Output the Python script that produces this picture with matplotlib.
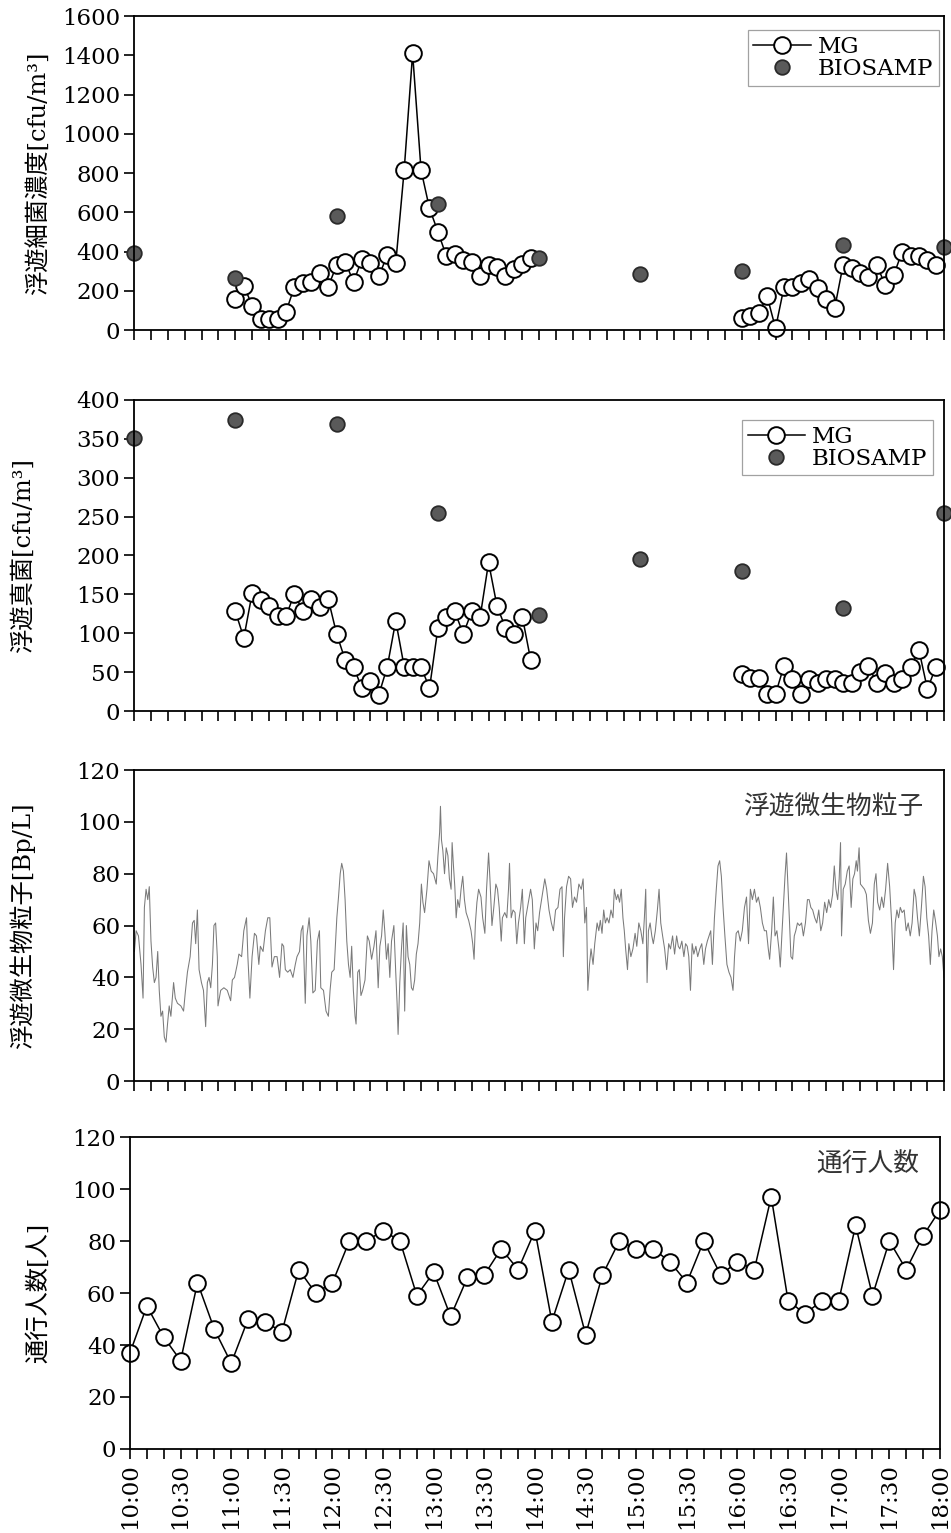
import numpy as np
import matplotlib.pyplot as plt
from matplotlib.ticker import MultipleLocator, FuncFormatter

plt.rcParams['font.family'] = ['DejaVu Serif', 'Noto Sans CJK JP']

# time axis: minutes after 10:00
bio_t = [0, 60, 120, 180, 240, 300, 360, 420, 480]
mg_t_am = np.arange(60, 240, 5)     # 11:00 - 13:55
mg_t_pm = np.arange(360, 480, 5)    # 16:00 - 17:55
walk_t = np.arange(0, 481, 10)      # 10:00 - 18:00

# airborne bacteria [cfu/m3]
bac_mg_am = [158, 226, 124, 56, 56, 56, 93, 221, 238, 246, 289, 221, 331, 348, 246, 360, 343, 275,
             382, 340, 815, 1410, 815, 620, 501, 377, 387, 357, 345, 275, 331, 323, 275, 311, 335, 365]
bac_mg_pm = [60, 71, 85, 173, 9, 218, 218, 241, 258, 212, 156, 110, 331, 314, 289, 272, 331, 229,
             280, 399, 379, 377, 357, 331]
bac_bio = [391, 263, 581, 642, 365, 284, 302, 433, 425]

# airborne fungi [cfu/m3]
fun_mg_am = [128, 94, 152, 143, 135, 122, 122, 151, 128, 144, 134, 144, 99, 66, 57, 29, 38, 21,
             57, 116, 57, 57, 57, 29, 107, 121, 128, 99, 128, 121, 191, 135, 107, 99, 121, 65]
fun_mg_pm = [48, 42, 42, 22, 22, 58, 41, 22, 41, 36, 41, 41, 36, 36, 50, 58, 36, 49,
             36, 41, 57, 78, 28, 57]
fun_bio = [351, 374, 369, 255, 124, 195, 180, 133, 254]

# airborne microbial particles [Bp/L]
part_t = [
    0.2, 1.2, 2.6, 4.1, 5.3, 6.1, 7.1, 8.1, 9.0, 10.0, 11.0, 12.0, 13.0, 14.0, 14.9, 15.9, 16.9, 17.9,
    18.9, 19.8, 20.8, 21.8, 23.4, 24.4, 25.7, 27.7, 29.3, 30.3, 31.6, 33.2, 34.6, 35.6, 36.5, 37.5,
    38.5, 39.9, 41.1, 42.4, 43.4, 44.4, 45.4, 46.4, 47.3, 48.3, 49.3, 49.7, 51.3, 53.2, 55.2, 57.2,
    58.2, 59.5, 61.1, 62.1, 63.7, 65.0, 66.6, 67.4, 68.6, 69.9, 71.3, 72.5, 73.9, 74.8, 76.4, 77.8,
    79.2, 80.4, 81.7, 83.1, 84.7, 86.2, 87.6, 88.6, 89.6, 91.0, 92.5, 94.1, 95.5, 96.5, 98.0, 99.0,
    100.0, 101.4, 102.4, 103.7, 104.7, 105.9, 107.3, 108.6, 109.8, 110.6, 112.2, 113.7, 115.1, 116.1,
    117.1, 118.5,
    120.1, 121.1, 122.1, 123.0, 124.0, 125.0, 126.0, 127.0, 128.0, 128.9, 129.9, 130.9, 131.5, 132.5,
    133.4, 134.4, 135.4, 136.8, 138.2, 139.3, 140.7, 142.1, 143.3, 144.6, 145.6, 146.6, 147.6, 148.6,
    149.5, 150.5, 151.5, 152.5, 153.9, 155.0, 155.8, 156.4, 157.4, 158.4, 159.4, 160.3, 161.3, 162.3,
    163.3, 164.3, 165.2, 166.2, 167.2, 168.2, 169.2, 170.2, 171.1, 172.1, 173.5, 174.7, 176.0, 177.4,
    179.0, 180.0, 181.0, 181.5, 182.1, 182.9, 183.9, 184.9, 185.9, 186.8, 187.8, 188.4, 189.2, 190.0,
    190.8, 191.7, 192.7, 193.7, 194.7, 195.7, 196.7, 198.2, 199.6, 200.6, 201.4, 202.2, 203.1, 204.1,
    205.5, 206.5, 207.8, 208.8, 210.0, 210.8, 212.0, 213.1, 214.3, 215.3, 216.3, 217.5, 218.2, 219.6,
    220.8, 221.8, 222.4, 223.4, 224.5, 225.7, 226.7, 227.7, 229.0, 230.0, 231.2, 232.0, 233.6, 234.9,
    235.9, 237.1, 238.1, 239.1, 240.2, 241.4,
    243.3, 244.4, 245.8, 247.2, 248.4, 249.7, 251.1, 252.3, 253.5, 254.3, 255.0, 256.2, 257.4, 258.6,
    259.7, 260.9, 262.1, 263.5, 264.9, 266.0, 267.0, 268.0, 268.8, 269.8, 270.7, 271.9, 272.9, 274.3,
    275.3, 276.2, 277.2, 278.2, 279.2, 280.2, 281.3, 282.5, 283.7, 284.5, 285.7, 286.6, 287.6, 288.6,
    289.6, 290.4, 291.2, 292.3, 293.1, 294.3, 295.5, 296.8, 297.8, 299.0, 300.2, 301.4, 302.3, 303.1,
    303.9, 304.7, 305.7, 306.7, 307.6, 308.8, 310.0, 311.0, 312.0, 313.1, 314.3, 315.5, 316.7, 317.8,
    319.0, 320.2, 321.4, 322.4, 323.3, 324.5, 325.7, 326.7, 327.7, 328.6, 329.6, 330.6, 331.6, 332.8,
    333.9, 335.1, 336.3, 337.5, 338.5, 339.6, 340.6, 341.6, 342.6, 343.8, 344.9, 345.9, 346.9, 347.9,
    348.9, 350.0, 351.2, 352.4, 353.6, 354.8, 355.7, 356.7, 357.9, 359.1, 360.3,
    361.6, 362.8, 364.0, 365.1, 366.3, 367.5, 368.7, 369.8, 371.0, 372.2, 373.4, 374.6, 375.7, 376.5,
    377.7, 378.7, 379.7, 380.8, 382.0, 382.8, 383.8, 384.8, 385.6, 386.5, 387.3, 388.3, 389.1, 390.1,
    391.1, 392.0, 393.0, 394.2, 395.4, 396.5, 397.7, 398.9, 399.9, 400.9, 402.0, 403.2, 404.4, 405.6,
    406.8, 407.9, 409.1, 410.3, 411.5, 412.6, 413.8, 414.8, 415.8, 416.8, 417.7, 418.5, 419.1, 420.1,
    421.3, 422.5, 423.6, 424.8, 425.8, 426.8, 427.8, 428.5, 429.5, 430.3, 431.5, 432.7, 433.8, 435.0,
    436.2, 437.4, 438.5, 439.5, 440.5, 441.7, 442.9, 444.0, 445.2, 446.4, 447.6, 448.8, 449.9, 450.9,
    451.9, 452.9, 453.9, 455.0, 456.2, 457.4, 458.6, 459.8, 460.9, 462.1, 463.1, 464.1, 465.2, 466.4,
    467.6, 468.6, 469.6, 470.7, 471.7, 472.7, 473.7, 474.7, 475.9, 476.8, 477.8, 478.8, 479.8]
part_v = [
    50, 58, 56, 45, 32, 67, 74, 70, 75, 54, 44, 38, 40, 50, 35, 25, 27, 17,
    15, 22, 29, 25, 38, 32, 30, 29, 27, 34, 42, 48, 61, 62, 53, 66,
    43, 38, 35, 21, 38, 40, 36, 45, 60, 61, 48, 29, 35, 36, 35, 31,
    39, 40, 45, 49, 48, 58, 63, 48, 32, 48, 57, 56, 45, 52, 50, 58,
    63, 63, 44, 48, 48, 40, 53, 52, 43, 42, 43, 40, 45, 48, 50, 58,
    60, 30, 56, 63, 54, 34, 35, 54, 58, 36, 35, 27, 25, 35, 42, 43,
    63, 71, 80, 84, 81, 70, 54, 45, 40, 52, 35, 25, 22, 42,
    43, 33, 35, 39, 56, 54, 47, 52, 58, 36, 52, 56, 66, 57,
    47, 53, 40, 54, 60, 42, 30, 18, 38, 51, 61, 27, 60, 48,
    45, 36, 35, 39, 49, 53, 61, 76, 69, 65, 74, 85, 81, 80,
    76, 87, 96, 106, 93, 89, 80, 90, 87, 78, 74, 92, 83, 75,
    63, 70, 67, 74, 79, 70, 65, 62, 58, 53, 47, 61, 69, 74,
    71, 63, 57, 74, 88, 78, 60, 67, 76, 74, 67, 54, 63, 65,
    63, 74, 84, 63, 66, 65, 53, 61, 67, 74, 53, 63, 69, 74,
    70, 51, 61, 58, 65, 70,
    78, 74, 66, 61, 58, 66, 67, 74, 75, 48, 63, 75, 79, 78,
    67, 71, 69, 76, 74, 78, 61, 67, 35, 45, 51, 45, 53, 61,
    58, 62, 57, 66, 61, 63, 61, 66, 63, 74, 70, 72, 69, 74,
    63, 58, 51, 43, 53, 48, 51, 57, 52, 61, 58, 53, 63, 74,
    38, 58, 61, 56, 53, 58, 66, 74, 61, 56, 51, 43, 53, 51,
    56, 49, 56, 52, 51, 54, 48, 53, 52, 48, 35, 53, 49, 52,
    48, 51, 53, 45, 51, 54, 56, 58, 45, 63, 74, 83, 85, 79,
    67, 56, 45, 42, 40, 35, 48, 57, 58, 54, 58,
    67, 71, 53, 74, 70, 74, 69, 71, 67, 61, 58, 58, 51, 47,
    58, 71, 56, 58, 51, 44, 57, 69, 79, 88, 76, 61, 48, 47,
    56, 58, 61, 60, 61, 56, 61, 70, 70, 67, 66, 63, 61, 66,
    58, 61, 69, 65, 70, 67, 72, 83, 74, 70, 78, 92, 56, 74,
    76, 81, 83, 67, 78, 80, 85, 81, 90, 76, 75, 74, 72, 62,
    57, 61, 76, 80, 69, 66, 71, 67, 74, 84, 75, 61, 43, 61,
    66, 63, 67, 65, 66, 58, 61, 56, 61, 74, 71, 63, 56, 67,
    79, 75, 63, 56, 45, 58, 66, 62, 56, 48, 51, 48, 40]

# number of passers-by [persons / 10 min]
walkers = [37, 55, 43, 34, 64, 46, 33, 50, 49, 45, 69, 60, 64, 80, 80, 84, 80, 59, 68, 51,
           66, 67, 77, 69, 84, 49, 69, 44, 67, 80, 77, 77, 72, 64, 80, 67, 72, 69, 97, 57,
           52, 57, 57, 86, 59, 80, 69, 82, 92]

fig = plt.figure(figsize=(9.51, 15.33), dpi=100)
left, width = 0.141, 0.852
ax1 = fig.add_axes([left, 0.7847, width, 0.2048])
ax2 = fig.add_axes([left, 0.5362, width, 0.2029])
ax3 = fig.add_axes([left, 0.2948, width, 0.2029])
ax4 = fig.add_axes([0.1367, 0.0548, 0.8517, 0.2035])

mg_style = dict(color='black', lw=1.1, marker='o', ms=12, mfc='white', mec='black', mew=1.4, clip_on=False)
bio_style = dict(ls='none', marker='o', ms=10.5, mfc='#5a5a5a', mec='#2a2a2a', mew=1.3, clip_on=False)

ax1.plot(mg_t_am, bac_mg_am, label='MG', **mg_style)
ax1.plot(mg_t_pm, bac_mg_pm, **mg_style)
ax1.plot(bio_t, bac_bio, label='BIOSAMP', **bio_style)

ax2.plot(mg_t_am, fun_mg_am, label='MG', **mg_style)
ax2.plot(mg_t_pm, fun_mg_pm, **mg_style)
ax2.plot(bio_t, fun_bio, label='BIOSAMP', **bio_style)

ax3.plot(part_t, part_v, color='#7a7a7a', lw=0.75)

ax4.plot(walk_t, walkers, **mg_style)

ax1.set_ylim(0, 1600)
ax1.yaxis.set_major_locator(MultipleLocator(200))
ax2.set_ylim(0, 400)
ax2.yaxis.set_major_locator(MultipleLocator(50))
for ax in (ax3, ax4):
    ax.set_ylim(0, 120)
    ax.yaxis.set_major_locator(MultipleLocator(20))


def hhmm(m, pos):
    m = int(round(m))
    return '{}:{:02d}'.format(10 + m // 60, m % 60)


for ax in (ax1, ax2, ax3, ax4):
    ax.set_xlim(0, 480)
    ax.xaxis.set_major_locator(MultipleLocator(30))
    ax.xaxis.set_minor_locator(MultipleLocator(10))
    ax.tick_params(axis='both', which='both', direction='out', length=7, width=1.2,
                   labelsize=16.5, top=False, right=False)
    ax.tick_params(axis='y', pad=3)
    for s in ax.spines.values():
        s.set_linewidth(1.3)
    if ax is ax4:
        ax.xaxis.set_major_formatter(FuncFormatter(hhmm))
        ax.tick_params(axis='x', labelrotation=90, pad=3)
    else:
        ax.tick_params(axis='x', labelbottom=False)

ylab_size = 17.5
ax1.set_ylabel('浮遊細菌濃度[cfu/m³]', fontsize=ylab_size)
ax2.set_ylabel('浮遊真菌[cfu/m³]', fontsize=ylab_size)
ax3.set_ylabel('浮遊微生物粒子[Bp/L]', fontsize=ylab_size)
ax4.set_ylabel('通行人数[人]', fontsize=ylab_size)
ax1.yaxis.set_label_coords(-0.104, 0.5)
ax2.yaxis.set_label_coords(-0.122, 0.5)
ax3.yaxis.set_label_coords(-0.122, 0.5)
ax4.yaxis.set_label_coords(-0.099, 0.5)

leg_kw = dict(loc='upper right', fontsize=16.5, frameon=True, fancybox=False, handlelength=2.5,
              handletextpad=0.3, labelspacing=0.0, borderpad=0.25, borderaxespad=0, numpoints=1)
lg1 = ax1.legend(bbox_to_anchor=(0.993, 0.955), **leg_kw)
lg2 = ax2.legend(bbox_to_anchor=(0.986, 0.936), **leg_kw)
for lg in (lg1, lg2):
    lg.get_frame().set_edgecolor('#8a8a8a')
    lg.get_frame().set_linewidth(0.9)

ax3.text(0.974, 0.878, '浮遊微生物粒子', transform=ax3.transAxes, ha='right', va='center',
         fontsize=18.5, family=['Noto Sans CJK JP'], color='#333333')
ax4.text(0.974, 0.91, '通行人数', transform=ax4.transAxes, ha='right', va='center',
         fontsize=18.5, family=['Noto Sans CJK JP'], color='#333333')

plt.savefig('out.png', dpi=100)
